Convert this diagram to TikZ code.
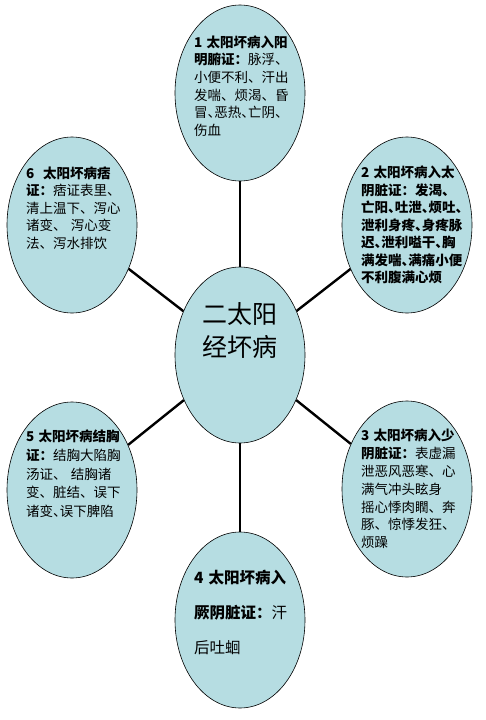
\documentclass[tikz,border=0pt]{standalone}
\usepackage{fontspec}
\setmainfont{Noto Sans CJK SC}
\usepackage{tikz}
\usetikzlibrary{shapes, positioning, calc}
\definecolor{bubbleblue}{RGB}{182, 221, 226}
\newcommand{\dun}{\makebox[.5em][l]{、}}

\begin{document}
\begin{tikzpicture}[x=1pt, y=-1pt,
  bubble/.style={ellipse, draw=black, line width=0.6pt, fill=bubbleblue,
    minimum width=130pt, minimum height=176pt, inner sep=0pt},
  spoke/.style={line width=2.4pt},
  note/.style={text width=92pt, align=left, inner sep=0pt,
    font=\fontsize{13.5}{17.7}\selectfont}]
  \useasboundingbox (0,0) rectangle (486,720);

  % ellipses
  \node[bubble] (hub) at (240,355) {};
  \node[bubble] (yangming) at (240,93) {};
  \node[bubble] (taiyin) at (407,225) {};
  \node[bubble] (shaoyin) at (407,489) {};
  \node[bubble] (jueyin) at (240,620) {};
  \node[bubble] (jiexiong) at (72,490) {};
  \node[bubble] (pi) at (72,225) {};

  \foreach \n in {yangming, taiyin, shaoyin, jueyin, jiexiong, pi}
    \draw[spoke] (hub) -- (\n);

  % texts
  \node[font=\fontsize{25}{33}\selectfont, align=center, inner sep=0pt] (hubtext)
    at ([yshift=24pt]hub.center) {二太阳\\经坏病};
  \node[note] (yangmingtext) at ([yshift=7pt]yangming.center) {
    \textbf{1~太阳坏病入阳}\\
    \textbf{明腑证：}脉浮、\\
    小便不利、汗出\\
    发喘、烦渴、昏\\
    冒\dun 恶热\dun 亡阴\dun\\
    伤血};
  \node[note, font=\fontsize{13.5}{17.5}\bfseries] (taiyintext) at (taiyin.center) {
    2~太阳坏病入太\\
    阴脏证：发渴、\\
    亡阳\dun 吐泄\dun 烦吐\dun\\
    泄利身疼\dun 身疼脉\\
    迟\dun 泄利嗌干\dun 胸\\
    满发喘\dun 满痛小便\\
    不利腹满心烦};
  \node[note, font=\fontsize{13.5}{17.8}\selectfont] (shaoyintext) at (shaoyin.center) {
    \textbf{3~太阳坏病入少}\\
    \textbf{阴脏证：}表虚漏\\
    泄恶风恶寒、心\\
    满气冲头眩身\\
    摇心悸肉瞤、奔\\
    豚、惊悸发狂、\\
    烦躁};
  \node[note, font=\fontsize{15.5}{35}\selectfont] (jueyintext) at ([yshift=8pt]jueyin.center) {
    \textbf{4~太阳坏病入}\\
    \textbf{厥阴脏证：}汗\\
    后吐蛔};
  \node[note, font=\fontsize{13.5}{18.7}\selectfont] (jiexiongtext) at ([yshift=16pt]jiexiong.center) {
    \textbf{5~太阳坏病结胸}\\
    \textbf{证：}结胸大陷胸\\
    汤证、~结胸诸\\
    变、脏结、误下\\
    诸变\dun 误下脾陷};
  \node[note, font=\fontsize{13.5}{17.5}\selectfont] (pitext) at ([yshift=17pt]pi.center) {
    \textbf{6~~太阳坏病痞}\\
    \textbf{证：}痞证表里、\\
    清上温下、泻心\\
    诸变、~泻心变\\
    法、泻水排饮};
\end{tikzpicture}
\end{document}
